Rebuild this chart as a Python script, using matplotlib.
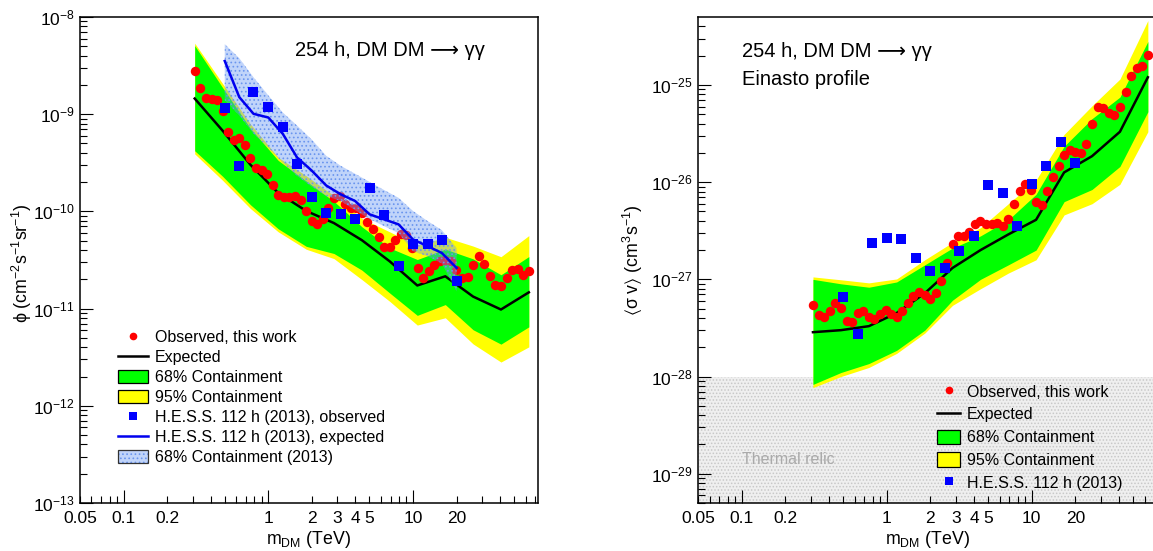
import numpy as np
import matplotlib
matplotlib.use("Agg")
import matplotlib.pyplot as plt
from matplotlib.patches import Patch
from matplotlib.lines import Line2D
from matplotlib.legend_handler import HandlerTuple
from matplotlib.ticker import FixedLocator, FuncFormatter, LogFormatterMathtext, NullFormatter

plt.rcParams['font.family'] = ['Liberation Sans', 'DejaVu Sans']
plt.rcParams['mathtext.fontset'] = 'custom'
plt.rcParams['mathtext.rm'] = 'Liberation Sans'
plt.rcParams['mathtext.it'] = 'Liberation Sans:italic'
plt.rcParams['mathtext.default'] = 'regular'
plt.rcParams['mathtext.fallback'] = 'stixsans'
plt.rcParams['hatch.linewidth'] = 0.7

# masses (TeV) where expected limits / bands are given
m_exp = [0.31, 0.483, 0.753, 1.17, 1.83, 2.84, 4.43, 6.89, 10.7, 16.7, 26.0, 40.5, 63.1]

# masses (TeV) of the observed points of this work
m_obs = [0.310, 0.339, 0.371, 0.405, 0.442, 0.483, 0.528, 0.577, 0.631, 0.689,
         0.753, 0.823, 0.899, 0.982, 1.073, 1.172, 1.281, 1.400, 1.529, 1.671,
         1.826, 1.995, 2.180, 2.381, 2.602, 2.843, 3.106, 3.394, 3.709, 4.052,
         4.428, 4.837, 5.284, 5.775, 6.310, 6.893, 7.532, 8.230, 8.993, 9.824,
         10.74, 11.73, 12.82, 14.00, 15.30, 16.72, 18.26, 19.95, 21.81, 23.82,
         26.03, 28.44, 31.07, 33.95, 37.10, 40.53, 44.29, 48.39, 52.87, 57.77, 63.12]

# H.E.S.S. 2013 masses (TeV)
m_hess = [0.5, 0.63, 0.79, 1.0, 1.26, 1.58, 2.0, 2.51, 3.16, 3.98, 5.01, 6.31, 7.94, 10.0, 12.6, 15.8, 20.0]

# ---- left panel: flux limits (cm^-2 s^-1 sr^-1)
obs_L = [2.79e-9, 1.86e-9, 1.46e-9, 1.44e-9, 1.41e-9, 1.07e-9, 6.52e-10, 5.43e-10, 5.70e-10, 4.83e-10,
         3.54e-10, 2.83e-10, 2.68e-10, 2.45e-10, 1.87e-10, 1.47e-10, 1.41e-10, 1.42e-10, 1.44e-10, 1.30e-10,
         1.01e-10, 7.96e-11, 7.36e-11, 8.28e-11, 1.09e-10, 1.39e-10, 1.44e-10, 1.18e-10, 1.08e-10, 1.08e-10,
         9.70e-11, 7.82e-11, 6.53e-11, 5.43e-11, 4.29e-11, 4.29e-11, 5.14e-11, 5.79e-11, 5.70e-11, 4.22e-11,
         2.62e-11, 2.06e-11, 2.42e-11, 2.84e-11, 3.07e-11, 3.20e-11, 3.12e-11, 2.48e-11, 2.06e-11, 2.10e-11,
         2.84e-11, 3.46e-11, 2.88e-11, 2.15e-11, 1.73e-11, 1.72e-11, 2.06e-11, 2.52e-11, 2.55e-11, 2.24e-11, 2.46e-11]
exp_L = [1.45e-9, 6.78e-10, 3.02e-10, 1.55e-10, 1.01e-10, 7.59e-11, 5.06e-11, 3.07e-11, 1.73e-11, 2.15e-11, 1.33e-11, 9.79e-12, 1.47e-11]
g68_hi_L = [5.08e-9, 1.88e-9, 7.14e-10, 3.35e-10, 2.05e-10, 1.27e-10, 6.96e-11, 4.21e-11, 3.20e-11, 4.09e-11, 3.25e-11, 2.23e-11, 3.43e-11]
g68_lo_L = [4.21e-10, 2.30e-10, 1.17e-10, 6.63e-11, 4.37e-11, 3.69e-11, 2.49e-11, 1.45e-11, 8.52e-12, 1.10e-11, 6.06e-12, 4.31e-12, 6.49e-12]
y95_hi_L = [5.38e-9, 2.07e-9, 7.92e-10, 3.60e-10, 2.32e-10, 1.45e-10, 8.45e-11, 6.17e-11, 4.47e-11, 5.42e-11, 4.40e-11, 3.42e-11, 5.64e-11]
y95_lo_L = [3.91e-10, 2.09e-10, 1.07e-10, 6.17e-11, 4.08e-11, 3.27e-11, 1.99e-11, 1.19e-11, 6.77e-12, 8.05e-12, 4.33e-12, 2.82e-12, 4.04e-12]
hess_obs_L = [1.15e-9, 2.95e-10, 1.69e-9, 1.18e-9, 7.34e-10, 3.04e-10, 1.41e-10, 9.70e-11, 9.40e-11, 8.38e-11,
              1.76e-10, 9.25e-11, 2.72e-11, 4.57e-11, 4.57e-11, 5.14e-11, 1.94e-11]
hess_exp_L = [3.53e-9, 1.50e-9, 1.01e-9, 9.25e-10, 6.27e-10, 3.59e-10, 2.62e-10, 1.85e-10, 1.50e-10, 1.28e-10,
              9.33e-11, 8.28e-11, 7.36e-11, 5.14e-11, 4.39e-11, 3.74e-11, 2.62e-11]
hess_hi_L = [5.26e-9, 3.77e-9, 2.40e-9, 1.56e-9, 1.04e-9, 7.64e-10, 5.47e-10, 3.74e-10, 2.95e-10, 2.44e-10,
             2.01e-10, 1.66e-10, 1.38e-10, 1.01e-10, 7.96e-11, 6.43e-11, 4.19e-11]
hess_lo_L = [1.39e-9, 9.70e-10, 6.31e-10, 4.53e-10, 3.17e-10, 2.32e-10, 1.79e-10, 1.44e-10, 1.28e-10, 1.03e-10,
             8.34e-11, 7.06e-11, 5.98e-11, 3.90e-11, 3.46e-11, 2.92e-11, 1.50e-11]

# ---- right panel: <sigma v> limits (cm^3 s^-1)
obs_R = [5.43e-28, 4.28e-28, 4.06e-28, 4.75e-28, 5.74e-28, 5.02e-28, 3.74e-28, 3.66e-28, 4.53e-28, 4.68e-28,
         4.06e-28, 3.87e-28, 4.36e-28, 4.83e-28, 4.39e-28, 4.06e-28, 4.71e-28, 5.66e-28, 6.78e-28, 7.46e-28,
         6.90e-28, 6.27e-28, 7.18e-28, 9.62e-28, 1.49e-27, 2.31e-27, 2.81e-27, 2.77e-27, 3.04e-27, 3.74e-27,
         3.95e-27, 3.74e-27, 3.74e-27, 3.80e-27, 3.51e-27, 4.21e-27, 5.98e-27, 8.07e-27, 9.47e-27, 8.26e-27,
         6.21e-27, 5.88e-27, 8.07e-27, 1.14e-26, 1.46e-26, 1.89e-26, 2.15e-26, 2.05e-26, 2.01e-26, 2.45e-26,
         3.95e-26, 5.88e-26, 5.74e-26, 5.09e-26, 4.89e-26, 5.88e-26, 8.4e-26, 1.23e-25, 1.49e-25, 1.56e-25, 2.04e-25]
exp_R = [2.86e-28, 3.0e-28, 3.3e-28, 4.5e-28, 7.2e-28, 1.31e-27, 2.0e-27, 2.9e-27, 4.1e-27, 1.26e-26, 1.85e-26, 3.3e-26, 1.2e-25]
g68_hi_R = [1.0e-27, 9.0e-28, 8.3e-28, 9.4e-28, 1.41e-27, 2.1e-27, 2.8e-27, 4.1e-27, 7.5e-27, 2.34e-26, 4.5e-26, 7.5e-26, 2.8e-25]
g68_lo_R = [8.3e-29, 1.1e-28, 1.36e-28, 1.86e-28, 3.0e-28, 6.1e-28, 1.0e-27, 1.41e-27, 2.0e-27, 6.3e-27, 8.4e-27, 1.45e-26, 5.3e-26]
y95_hi_R = [1.06e-27, 9.9e-28, 9.2e-28, 1.01e-27, 1.59e-27, 2.4e-27, 3.4e-27, 6.0e-27, 1.05e-26, 3.1e-26, 6.1e-26, 1.15e-25, 4.6e-25]
y95_lo_R = [7.7e-29, 1.0e-28, 1.24e-28, 1.73e-28, 2.8e-28, 5.4e-28, 8.0e-28, 1.16e-27, 1.59e-27, 4.6e-27, 6.0e-27, 9.5e-27, 3.3e-26]
hess_obs_R = [6.62e-28, 2.71e-28, 2.36e-27, 2.66e-27, 2.60e-27, 1.65e-27, 1.23e-27, 1.30e-27, 1.98e-27, 2.81e-27,
              9.31e-27, 7.69e-27, 3.57e-27, 9.47e-27, 1.46e-26, 2.62e-26, 1.56e-26]
thermal_relic = 1e-28

x_tick_labels = [0.05, 0.1, 0.2, 1, 2, 3, 4, 5, 10, 20]

GREEN = '#00ff00'
YELLOW = '#ffff00'
RED = '#ff0000'
BLUE = '#0000ff'
HATCH_FC = (0.42, 0.6, 0.96, 0.42)
HATCH_EC = '#6a95ee'
TITLE = '254 h, DM DM \u27f6 \u03b3\u03b3'


def xfmt(v, pos):
    for t in x_tick_labels:
        if abs(v - t) < 1e-6 * t:
            return '%g' % t
    return ''


def style_axis(ax, ylim, decades):
    ax.set_xscale('log')
    ax.set_yscale('log')
    ax.set_xlim(0.05, 73)
    ax.set_ylim(*ylim)
    minors = [0.05, 0.06, 0.07, 0.08, 0.09] + [k / 10 for k in range(2, 10)] + list(range(2, 10)) + [10 * k for k in range(2, 8)]
    ax.xaxis.set_major_locator(FixedLocator([0.1, 1, 10]))
    ax.xaxis.set_minor_locator(FixedLocator(minors))
    ax.xaxis.set_major_formatter(FuncFormatter(xfmt))
    ax.xaxis.set_minor_formatter(FuncFormatter(xfmt))
    ymaj = [10.0 ** d for d in decades]
    ymin = [k * 10.0 ** d for d in range(decades[0] - 1, decades[-1] + 1) for k in range(2, 10)]
    ymin = [v for v in ymin if ylim[0] <= v <= ylim[1]]
    ax.yaxis.set_major_locator(FixedLocator(ymaj))
    ax.yaxis.set_minor_locator(FixedLocator(ymin))
    ax.yaxis.set_major_formatter(LogFormatterMathtext())
    ax.yaxis.set_minor_formatter(NullFormatter())
    ax.tick_params(which='both', direction='in', top=False, right=False, width=0.8,
                   labelsize=12.5, pad=4)
    ax.tick_params(axis='x', which='both', pad=6)
    ax.tick_params(which='major', length=9.5)
    ax.tick_params(which='minor', length=5)
    for s in ax.spines.values():
        s.set_linewidth(1.1)
    ax.set_xlabel('m$_{DM}$ (TeV)', fontsize=12.8)
    ax.xaxis.set_label_coords(0.5, -0.054)


fig = plt.figure(figsize=(11.53, 5.51), dpi=100)
axL = fig.add_axes([0.0694, 0.0871, 0.3972, 0.882])
axR = fig.add_axes([0.6054, 0.0871, 0.3981, 0.882])

# ---------------- left panel
axL.fill_between(m_exp, y95_lo_L, y95_hi_L, color=YELLOW, lw=0, zorder=1)
axL.fill_between(m_exp, g68_lo_L, g68_hi_L, color=GREEN, lw=0, zorder=1.1)
axL.plot(m_exp, exp_L, color='k', lw=1.8, zorder=2)
axL.plot(m_obs, obs_L, 'o', color=RED, ms=6.8, mew=0, zorder=3)
axL.fill_between(m_hess, hess_lo_L, hess_hi_L, facecolor=HATCH_FC, edgecolor=HATCH_EC,
                 hatch='....', lw=0, zorder=4)
axL.plot(m_hess, hess_exp_L, color='#0000ee', lw=1.8, zorder=5)
axL.plot(m_hess, hess_obs_L, 's', color=BLUE, ms=6.5, mew=0, zorder=6)

style_axis(axL, (1e-13, 1e-8), list(range(-13, -7)))
axL.set_ylabel('\u03d5 (cm$^{-2}$s$^{-1}$sr$^{-1}$)', fontsize=12.8)
axL.yaxis.set_label_coords(-0.1, 0.494)
axL.text(0.469, 0.92, TITLE, transform=axL.transAxes,
         fontsize=14.5, va='baseline', ha='left')

hatch_handle = (Patch(facecolor=HATCH_FC, edgecolor=HATCH_EC, hatch='....', lw=0),
                Patch(facecolor='none', edgecolor='#333333', lw=0.9))
handles_L = [Line2D([], [], marker='o', ls='none', color=RED, ms=5.5, mew=0),
             Line2D([], [], color='k', lw=1.8),
             Patch(facecolor=GREEN, edgecolor='k', lw=0.9),
             Patch(facecolor=YELLOW, edgecolor='k', lw=0.9),
             Line2D([], [], marker='s', ls='none', color=BLUE, ms=5.5, mew=0),
             Line2D([], [], color='#0000ee', lw=1.8),
             hatch_handle]
labels_L = ['Observed, this work', 'Expected', '68% Containment', '95% Containment',
            'H.E.S.S. 112 h (2013), observed', 'H.E.S.S. 112 h (2013), expected',
            '68% Containment (2013)']
axL.legend(handles_L, labels_L, loc='upper left', bbox_to_anchor=(0.083, 0.356), frameon=False,
           fontsize=11.5, handlelength=1.9, handleheight=0.9, handletextpad=0.4, labelspacing=0.3,
           borderpad=0, borderaxespad=0, handler_map={tuple: HandlerTuple(ndivide=1, pad=0)})

# ---------------- right panel
axR.axhspan(5e-30, thermal_relic, facecolor='#efefef', edgecolor='#c8c8c8', hatch='.....', lw=0, zorder=0)
axR.text(0.1, 1.4e-29, 'Thermal relic', color='#aaaaaa', fontsize=11.5, ha='left', va='center', zorder=0.5)
axR.fill_between(m_exp, y95_lo_R, y95_hi_R, color=YELLOW, lw=0, zorder=1)
axR.fill_between(m_exp, g68_lo_R, g68_hi_R, color=GREEN, lw=0, zorder=1.1)
axR.plot(m_exp, exp_R, color='k', lw=1.8, zorder=2)
axR.plot(m_obs, obs_R, 'o', color=RED, ms=6.8, mew=0, zorder=3)
axR.plot(m_hess, hess_obs_R, 's', color=BLUE, ms=6.5, mew=0, zorder=6)

style_axis(axR, (5e-30, 5e-25), list(range(-29, -24)))
axR.set_ylabel(r'$\langle\sigma$ v$\rangle$ (cm$^{3}$s$^{-1}$)', fontsize=12.8)
axR.yaxis.set_label_coords(-0.115, 0.5)
axR.text(0.096, 0.918, TITLE, transform=axR.transAxes,
         fontsize=14.5, va='baseline', ha='left')
axR.text(0.096, 0.860, 'Einasto profile', transform=axR.transAxes,
         fontsize=14.5, va='baseline', ha='left')

handles_R = [Line2D([], [], marker='o', ls='none', color=RED, ms=5.5, mew=0),
             Line2D([], [], color='k', lw=1.8),
             Patch(facecolor=GREEN, edgecolor='k', lw=0.9),
             Patch(facecolor=YELLOW, edgecolor='k', lw=0.9),
             Line2D([], [], marker='s', ls='none', color=BLUE, ms=5.5, mew=0)]
labels_R = ['Observed, this work', 'Expected', '68% Containment', '95% Containment',
            'H.E.S.S. 112 h (2013)']
axR.legend(handles_R, labels_R, loc='upper left', bbox_to_anchor=(0.521, 0.245), frameon=False,
           fontsize=11.5, handlelength=1.45, handleheight=1.0, handletextpad=0.4, labelspacing=0.45,
           borderpad=0, borderaxespad=0)

fig.savefig('out.png', dpi=100)
